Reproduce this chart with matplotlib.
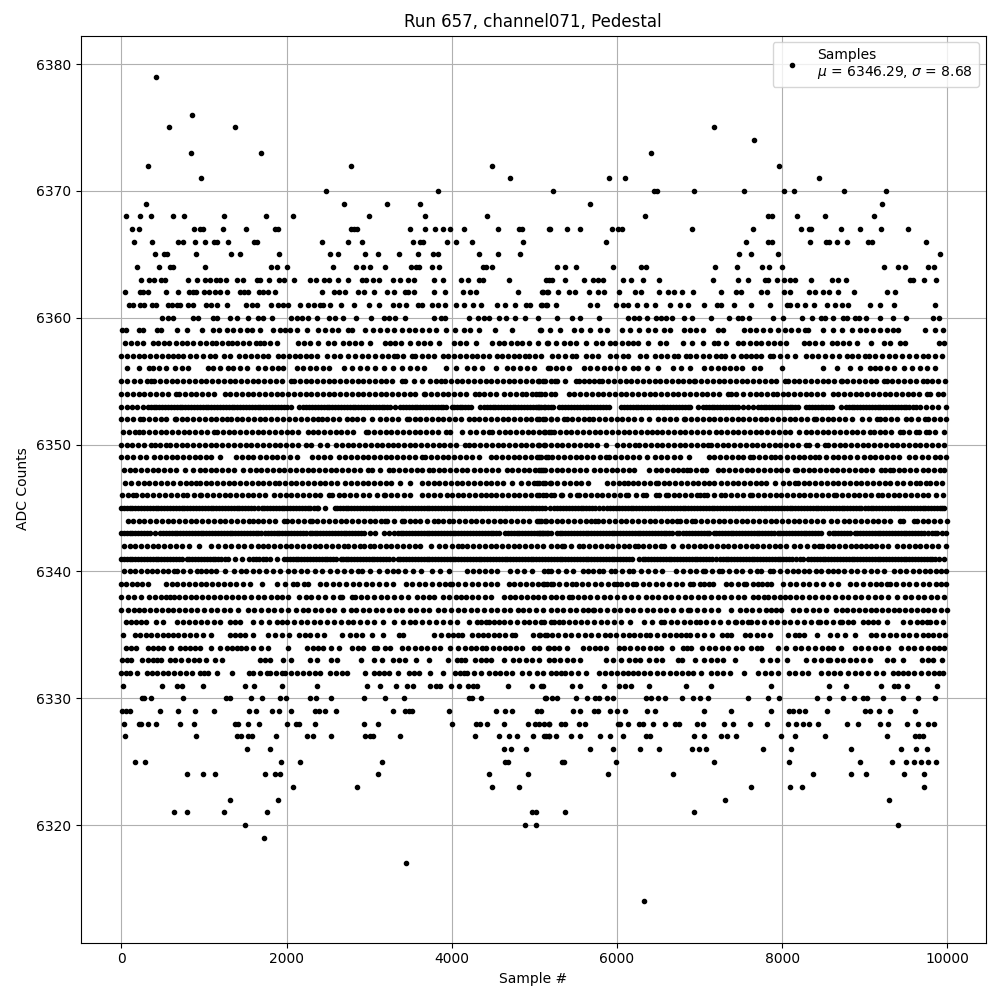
"""
Pedestal samples of one ADC channel, samples listed per ADC count.
"""
import matplotlib
matplotlib.use("Agg")
import matplotlib.pyplot as plt

TITLE = "Run 657, channel071, Pedestal"
MU = 6346.29
SIGMA = 8.68

adc_6314 = [6324]
adc_6317 = [3441]
adc_6319 = [1731]
adc_6320 = [1500, 4885, 5019, 9405]
adc_6321 = [639, 797, 1246, 1767, 4970, 5019, 5377, 6930]
adc_6322 = [1318, 1901, 7306, 9296]
adc_6323 = [2083, 2859, 4485, 4812, 7622, 8095, 8240, 9720]
adc_6324 = [797, 991, 1136, 1743, 1864, 1925, 3102, 4448, 4921, 5887, 6675, 8375, 8836, 9017, 9478, 9720]
adc_6325 = [170, 287, 1937, 2168, 3150, 4642, 4679, 5340, 5365, 5984, 7173, 8083, 8944, 9332, 9502, 9600, 9684, 9769, 9866]
adc_6326 = [1525, 1804, 4630, 4715, 4897, 5680, 5947, 6275, 6505, 6906, 6990, 7075, 7767, 8107, 8836, 9442, 9624, 9757]
adc_6327 = [44, 906, 1403, 1452, 1537, 1585, 1876, 2252, 2325, 2544, 2956, 3005, 3053, 3369, 4278, 4570, 4691, 4788, 4982, 5140, 5176,
            5120, 5180, 5258, 5442, 5559, 5790, 5911, 6069, 6348, 6396, 6930, 7051, 7258, 7330, 7440, 7986, 8155, 8519, 9272, 9611, 9660, 9708]
adc_6328 = [32, 214, 239, 324, 420, 712, 882, 1379, 1415, 1537, 1670, 2010, 2119, 2156, 2350, 2944, 3102, 4000, 4291, 4339, 4424, 4630, 4921, 5006, 5055, 5116, 5176,
            5180, 5320, 5373, 5535, 5608, 6008, 6040, 6129, 6263, 6311, 6433, 6578, 6700, 6748, 6966, 7039, 7294, 7403, 7610, 7816, 8070, 8167, 8252, 8325, 8434, 8786, 8920, 9187, 9284, 9514, 9648, 9769, 9842]
adc_6329 = [8, 57, 109, 469, 687, 894, 1124, 1549, 1634, 1828, 1913, 2058, 2350, 2398, 2471, 2604, 3284, 3429, 3478, 3514, 3963, 4533, 4642, 4727, 5031, 5079,
            5474, 5559, 5717, 5765, 5911, 5996, 6093, 6360, 6457, 7051, 7379, 7864, 8083, 8131, 8204, 8277, 8544, 9005, 9066, 9175, 9308, 9611]
adc_6330 = [251, 275, 360, 748, 1270, 1318, 1573, 1707, 1925, 1998, 2289, 2362, 2544, 2944, 3187, 3417, 4206, 4242, 4351, 5130, 5140, 5220, 5280, 5510, 5632, 5729, 5777, 5875, 5947,
            6348, 6408, 6493, 6578, 6785, 6918, 7000, 7100, 7585, 7828, 7961, 8422, 8568, 8738, 8871, 8981, 9029, 9227, 9458, 9640, 9846]
adc_6331 = [20, 493, 675, 736, 991, 1500, 1610, 1949, 2374, 2980, 3126, 3320, 3454, 3526, 3733, 3805, 3854, 3987, 4084, 4194, 4254, 4303, 4679, 4970, 5103,
            5086, 5462, 5559, 5838, 6020, 6093, 6166, 6384, 6833, 7137, 7864, 8568, 8774, 9199, 9357, 9405, 9515, 9878]
adc_6332 = [0, 55, 110, 190, 310, 370, 430, 500, 570, 640, 710, 780, 850, 950, 1000, 1050, 1160, 1340, 1540, 1600, 1680, 1760, 1800, 1870, 1940, 1980, 2060, 2130, 2200, 2270, 2340, 2410, 2530, 2600, 2670, 2730, 2955, 3055, 3115, 3175, 3245, 3345, 3480, 3540, 3600, 3735, 3890, 4045, 4095, 4145, 4185, 4265, 4350, 4450, 4520, 4590, 4660, 4730, 4850, 4935, 5035, 5100, 5200,
            5260, 5320, 5375, 5440, 5525, 5625, 5785, 5855, 5925, 6005, 6070, 6140, 6190, 6260, 6330, 6400, 6480, 6560, 6640, 6720, 6790, 6855, 6925, 7020, 7140, 7210, 7290, 7370, 7535, 7705, 7790, 7870, 7950, 8085, 8160, 8235, 8315, 8475, 8550, 8625, 8700, 8800, 8880, 8960, 9040, 9140, 9225, 9345, 9405, 9465, 9525, 9600, 9680, 9760, 9840, 9900, 9950]
adc_6333 = [10, 65, 120, 250, 325, 385, 435, 485, 585, 650, 720, 810, 875, 940, 1030, 1130, 1225, 1685, 1745, 1800, 1960, 2050, 2290, 2375, 2535, 2615, 2900, 3055, 3160, 3295, 3365, 3435, 3565, 3720, 3950, 4065, 4115, 4165, 4280, 4350, 4410, 4475, 4635, 4745, 4820, 4900, 4975, 5060, 5175,
            5240, 5310, 5390, 5470, 5550, 5865, 5955, 6050, 6150, 6215, 6285, 6390, 6470, 6550, 6735, 6790, 6950, 7060, 7140, 7215, 7285, 7430, 7760, 7850, 7935, 8055, 8295, 8380, 8470, 8555, 8575, 8660, 8740, 8820, 8900, 8980, 9060, 9265, 9345, 9465, 9695, 9760, 9830, 9930]
adc_6334 = [60, 120, 180, 325, 385, 450, 510, 600, 710, 770, 830, 890, 950, 1090, 1195, 1275, 1335, 1395, 1455, 1515, 1600, 1690, 1775, 2020, 2245, 2315, 2385, 2440, 2535, 2630, 2790, 2860, 2930, 3055, 3100, 3195, 3255, 3395, 3470, 3550, 3630, 3700, 3780, 3860, 3985, 4075, 4165, 4235, 4300, 4365, 4415, 4500, 4570, 4640, 4710, 4780, 4850, 4995, 5055, 5175,
            5170, 5240, 5300, 5400, 5585, 5660, 5730, 5800, 5865, 6020, 6090, 6160, 6240, 6320, 6400, 6475, 6530, 6670, 6805, 6850, 6895, 7030, 7110, 7190, 7270, 7350, 7445, 7515, 7625, 7690, 7750, 7950, 8050, 8150, 8230, 8310, 8400, 8480, 8550, 8615, 8715, 8880, 8960, 9040, 9120, 9200, 9285, 9445, 9520, 9600, 9680, 9760, 9840, 9900, 9960]
adc_6335 = [20, 160, 230, 300, 360, 430, 500, 565, 620, 690, 760, 835, 910, 990, 1080, 1320, 1380, 1440, 1495, 1590, 1780, 1860, 1950, 2035, 2155, 2220, 2290, 2370, 2455, 2670, 2770, 2845, 2910, 3035, 3165, 3365, 3415, 3780, 3865, 3950, 4015, 4070, 4125, 4245, 4315, 4380, 4445, 4510, 4570, 4650, 4730, 4770, 4985, 5070, 5155,
            5060, 5135, 5210, 5290, 5370, 5450, 5530, 5610, 5690, 5770, 5850, 5920, 5990, 6070, 6150, 6210, 6280, 6350, 6400, 6490, 6570, 6640, 6710, 6770, 6835, 6885, 6965, 7050, 7150, 7275, 7330, 7385, 7545, 7615, 7690, 7770, 7850, 8070, 8150, 8210, 8270, 8420, 8575, 8665, 8765, 8885, 9070, 9140, 9220, 9300, 9380, 9460, 9540, 9620, 9700, 9770, 9830, 9900, 9970]
adc_6336 = [60, 120, 180, 240, 300, 425, 500, 675, 745, 815, 890, 960, 1040, 1120, 1195, 1315, 1375, 1435, 1600, 1690, 1790, 1890, 1940, 2010, 2090, 2170, 2250, 2330, 2410, 2490, 2570, 2660, 2750, 2810, 2890, 2975, 3055, 3165, 3305, 3410, 3490, 3560, 3640, 3720, 3815, 3900, 3985, 4065, 4205, 4310, 4360, 4410, 4450, 4510, 4570, 4630, 4710, 4790, 4875, 4935, 5005, 5075, 5115, 5200,
            5240, 5300, 5350, 5420, 5490, 5560, 5640, 5725, 5805, 5880, 5960, 6050, 6160, 6330, 6430, 6535, 6575, 6650, 6730, 6810, 6890, 6960, 7000, 7080, 7160, 7250, 7340, 7425, 7445, 7520, 7585, 7625, 7700, 7780, 7860, 7940, 8020, 8100, 8180, 8270, 8350, 8435, 8455, 8530, 8610, 8700, 8730, 8800, 8860, 8975, 9040, 9100, 9165, 9265, 9465, 9550, 9630, 9690, 9750, 9785, 9860, 9950]
adc_6337 = [0, 75, 150, 210, 280, 350, 420, 490, 560, 630, 700, 770, 840, 920, 1000, 1080, 1160, 1240, 1320, 1410, 1535, 1610, 1690, 1770, 1850, 1930, 2020, 2110, 2205, 2265, 2340, 2420, 2500, 2580, 2680, 2780, 2840, 2920, 3000, 3080, 3160, 3240, 3320, 3400, 3490, 3570, 3650, 3720, 3830, 3910, 3990, 4070, 4150, 4230, 4310, 4390, 4470, 4550, 4630, 4710, 4800, 4865, 4940, 5020, 5110, 5200,
            5270, 5350, 5430, 5510, 5590, 5650, 5705, 5725, 5800, 5880, 5960, 6040, 6120, 6200, 6280, 6360, 6440, 6520, 6600, 6680, 6770, 6855, 6890, 6970, 7060, 7140, 7220, 7385, 7485, 7560, 7640, 7720, 7800, 7870, 7920, 7990, 8130, 8210, 8290, 8370, 8450, 8535, 8650, 8720, 8790, 8860, 8930, 9000, 9070, 9140, 9210, 9280, 9350, 9420, 9490, 9560, 9630, 9700, 9770, 9840, 9920, 9990]
adc_6338 = [0, 80, 150, 240, 330, 405, 485, 540, 595, 635, 700, 770, 840, 910, 980, 1050, 1120, 1190, 1270, 1345, 1415, 1490, 1570, 1650, 1730, 1810, 1890, 1950, 2015, 2155, 2230, 2300, 2380, 2470, 2560, 2650, 2675, 2790, 2830, 2900, 2980, 3060, 3140, 3220, 3300, 3380, 3465, 3580, 3650, 3720, 3790, 3895, 3970, 4050, 4110, 4175, 4245, 4320, 4400, 4470, 4630, 4700, 4770, 4840, 4910, 4980, 5050, 5120, 5200,
            5260, 5340, 5420, 5460, 5530, 5600, 5680, 5760, 5840, 5920, 6000, 6080, 6170, 6260, 6350, 6420, 6500, 6580, 6660, 6740, 6820, 6900, 6980, 7060, 7140, 7220, 7300, 7380, 7460, 7535, 7645, 7710, 7775, 7830, 7900, 7970, 8040, 8100, 8165, 8240, 8320, 8400, 8480, 8560, 8640, 8720, 8800, 8880, 8960, 9040, 9120, 9200, 9280, 9395, 9485, 9560, 9640, 9720, 9800, 9870, 9960]
adc_6339 = [0, 60, 125, 185, 245, 325, 540, 610, 680, 750, 820, 890, 960, 1030, 1100, 1170, 1240, 1310, 1390, 1470, 1555, 1705, 1890, 1980, 2075, 2125, 2215, 2265, 2405, 2480, 2560, 2640, 2720, 2800, 2880, 2960, 3040, 3120, 3200, 3295, 3450, 3520, 3600, 3680, 3760, 3840, 3920, 3985, 4005, 4080, 4160, 4240, 4320, 4400, 4480, 4550, 4690, 4760, 4830, 4900, 4970, 5040, 5120, 5200,
            5100, 5150, 5225, 5300, 5380, 5455, 5505, 5580, 5650, 5730, 5810, 5890, 5970, 6000, 6050, 6120, 6190, 6230, 6310, 6390, 6470, 6550, 6630, 6710, 6790, 6885, 6925, 7000, 7060, 7120, 7160, 7315, 7380, 7460, 7535, 7560, 7645, 7705, 7760, 7815, 7870, 8010, 8090, 8170, 8250, 8330, 8410, 8500, 8590, 8675, 8820, 8900, 8980, 9060, 9140, 9200, 9265, 9305, 9380, 9460, 9540, 9620, 9700, 9780, 9860, 9920, 9985]
adc_6340 = [30, 100, 170, 240, 310, 370, 435, 500, 570, 635, 675, 750, 830, 920, 970, 1030, 1080, 1145, 1255, 1370, 1455, 1510, 1590, 1670, 1750, 1840, 1920, 2020, 2090, 2170, 2250, 2340, 2430, 2530, 2615, 2690, 2780, 2870, 2915, 3010, 3115, 3215, 3285, 3355, 3435, 3530, 3630, 3760, 3860, 3965, 4185, 4260, 4325, 4400, 4480, 4550, 4705, 4790, 4880, 4975, 5160,
            5120, 5200, 5290, 5380, 5470, 5585, 5645, 5710, 5780, 5835, 5925, 5980, 6060, 6150, 6200, 6290, 6380, 6460, 6545, 6715, 6800, 6880, 6960, 7040, 7070, 7150, 7240, 7275, 7360, 7440, 7520, 7610, 7695, 7750, 7850, 7895, 7980, 8060, 8130, 8190, 8260, 8330, 8405, 8475, 8550, 8615, 8675, 8750, 8830, 8910, 8990, 9070, 9150, 9230, 9355, 9425, 9500, 9580, 9660, 9730, 9790, 9860, 9920, 9985]
adc_6341 = [0, 65, 135, 205, 275, 345, 415, 485, 555, 625, 695, 740, 790, 860, 930, 1000, 1070, 1140, 1210, 1290, 1375, 1460, 1550, 1630, 1710, 1800, 1880, 1970, 2040, 2110, 2180, 2250, 2320, 2390, 2460, 2530, 2600, 2655, 2680, 2750, 2820, 2890, 2960, 3030, 3100, 3170, 3240, 3345, 3375, 3450, 3520, 3590, 3660, 3730, 3800, 3870, 3940, 4010, 4080, 4150, 4220, 4290, 4360, 4430, 4500, 4570, 4640, 4710, 4780, 4850, 4920, 4990, 5060, 5130, 5200,
            5270, 5340, 5410, 5480, 5550, 5620, 5690, 5760, 5830, 5900, 5970, 6040, 6110, 6180, 6265, 6310, 6380, 6450, 6520, 6590, 6660, 6730, 6800, 6870, 6940, 7010, 7080, 7150, 7250, 7280, 7350, 7420, 7490, 7560, 7630, 7700, 7770, 7840, 7910, 7980, 8050, 8120, 8220, 8255, 8315, 8385, 8455, 8525, 8595, 8665, 8735, 8805, 8875, 8945, 9015, 9085, 9155, 9225, 9295, 9365, 9435, 9505, 9575, 9645, 9715, 9785, 9855, 9960,
            30, 100, 170, 240, 310, 380, 450, 520, 590, 660, 825, 895, 965, 1035, 1105, 1175, 1250, 1590, 1670, 1755, 2005, 2075, 2145, 2215, 2285, 2355, 2425, 2495, 2565, 2715, 2785, 2855, 2925, 2995, 3065, 3135, 3205, 3290, 3415, 3485, 3555, 3625, 3695, 3765, 3835, 3905, 3975, 4045, 4115, 4185, 4255, 4325, 4395, 4465, 4535, 4605, 4675, 4745, 4815, 4885, 4955, 5025, 5095, 5165,
            5235, 5305, 5375, 5445, 5515, 5585, 5655, 5725, 5795, 5865, 5935, 6005, 6075, 6145, 6345, 6415, 6485, 6555, 6625, 6695, 6765, 6835, 6905, 6975, 7045, 7115, 7200, 7315, 7385, 7455, 7525, 7595, 7665, 7735, 7805, 7875, 7945, 8015, 8085, 8170, 8350, 8420, 8490, 8560, 8630, 8700, 8770, 8840, 8910, 8980, 9050, 9120, 9190, 9260, 9330, 9400, 9470, 9540, 9610, 9680, 9750, 9820, 9900]
adc_6342 = [30, 100, 170, 240, 310, 380, 450, 520, 590, 660, 740, 820, 940, 1090, 1175, 1250, 1330, 1410, 1490, 1570, 1650, 1720, 1780, 1850, 1920, 1990, 2060, 2130, 2200, 2270, 2340, 2410, 2480, 2550, 2620, 2690, 2750, 2820, 2890, 2935, 3010, 3060, 3130, 3200, 3270, 3340, 3410, 3480, 3550, 3610, 3750, 3840, 3920, 4000, 4070, 4130, 4185, 4260, 4330, 4400, 4470, 4540, 4610, 4680, 4750, 4820, 4890, 4960, 5030, 5100, 5200,
            5270, 5340, 5360, 5450, 5545, 5595, 5665, 5735, 5805, 5875, 5945, 6015, 6085, 6150, 6220, 6250, 6320, 6390, 6460, 6530, 6575, 6680, 6790, 6860, 6930, 7000, 7070, 7140, 7210, 7280, 7350, 7420, 7490, 7560, 7630, 7700, 7770, 7840, 7910, 7980, 8050, 8140, 8220, 8300, 8380, 8445, 8480, 8550, 8620, 8690, 8760, 8830, 8900, 8960, 9010, 9070, 9140, 9210, 9285, 9395, 9465, 9535, 9605, 9675, 9745, 9815, 9885, 9985]
adc_6343 = [0, 65, 135, 205, 275, 345, 410, 465, 505, 575, 645, 715, 785, 855, 925, 995, 1065, 1135, 1205, 1275, 1345, 1415, 1485, 1555, 1625, 1695, 1780, 1810, 1880, 1950, 2020, 2090, 2160, 2230, 2290, 2305, 2375, 2445, 2515, 2585, 2655, 2725, 2795, 2865, 2935, 3010, 3075, 3175, 3240, 3305, 3345, 3415, 3485, 3555, 3625, 3695, 3765, 3835, 3905, 3975, 4045, 4115, 4185, 4225, 4295, 4365, 4435, 4505, 4575, 4640, 4680, 4750, 4820, 4890, 4960, 5030, 5100, 5200,
            5060, 5130, 5270, 5340, 5410, 5480, 5550, 5620, 5690, 5760, 5830, 5900, 5970, 6040, 6110, 6180, 6250, 6320, 6390, 6460, 6530, 6600, 6670, 6725, 6755, 6805, 6840, 6910, 6980, 7050, 7120, 7170, 7200, 7270, 7340, 7410, 7480, 7550, 7620, 7690, 7760, 7830, 7900, 7950, 7980, 8050, 8120, 8190, 8260, 8330, 8400, 8470, 8570, 8610, 8680, 8750, 8820, 8880, 8910, 8980, 9050, 9120, 9190, 9225, 9295, 9365, 9435, 9505, 9575, 9645, 9715, 9770, 9810, 9880, 9985,
            30, 100, 170, 240, 310, 540, 610, 680, 750, 820, 890, 960, 1030, 1100, 1170, 1240, 1310, 1380, 1450, 1520, 1590, 1660, 1740, 1845, 1915, 1985, 2055, 2125, 2195, 2340, 2410, 2480, 2550, 2620, 2690, 2760, 2830, 2900, 3380, 3450, 3520, 3590, 3660, 3730, 3800, 3870, 3940, 4010, 4080, 4150, 4260, 4330, 4400, 4470, 4540, 4715, 4785, 4855, 4925, 4995, 5065, 5150,
            5095, 5165, 5305, 5375, 5445, 5515, 5585, 5655, 5725, 5795, 5865, 5935, 6005, 6075, 6145, 6215, 6285, 6355, 6425, 6495, 6565, 6635, 6875, 6945, 7015, 7085, 7235, 7305, 7375, 7445, 7515, 7585, 7655, 7725, 7795, 7865, 8015, 8085, 8155, 8225, 8295, 8365, 8435, 8645, 8715, 8785, 8945, 9015, 9085, 9155, 9260, 9330, 9400, 9470, 9540, 9610, 9680, 9845, 9930]
adc_6344 = [80, 140, 210, 280, 350, 420, 490, 560, 630, 700, 770, 840, 910, 980, 1050, 1120, 1190, 1260, 1330, 1400, 1470, 1540, 1600, 1650, 1720, 1790, 1860, 1970, 2000, 2070, 2140, 2210, 2285, 2305, 2375, 2445, 2515, 2585, 2655, 2725, 2795, 2865, 2935, 3005, 3075, 3145, 3195, 3215, 3300, 3400, 3420, 3490, 3560, 3610, 3700, 3785, 3830, 3900, 3970, 4020, 4090, 4160, 4230, 4300, 4370, 4440, 4510, 4580, 4650, 4720, 4790, 4860, 4930, 5035, 5075, 5145, 5200,
            5060, 5130, 5270, 5340, 5410, 5480, 5550, 5620, 5690, 5735, 5765, 5835, 5905, 5975, 6045, 6115, 6185, 6255, 6325, 6395, 6465, 6535, 6605, 6665, 6725, 6765, 6840, 6910, 6950, 7020, 7090, 7160, 7230, 7300, 7370, 7440, 7510, 7580, 7650, 7720, 7790, 7860, 7930, 8000, 8070, 8140, 8210, 8280, 8350, 8420, 8490, 8590, 8665, 8745, 8815, 8885, 8955, 9025, 9095, 9165, 9235, 9305, 9425, 9465, 9595, 9630, 9700, 9770, 9840, 9910, 9998]
adc_6345 = [0, 65, 135, 205, 275, 345, 415, 485, 555, 625, 695, 765, 835, 905, 975, 1045, 1115, 1185, 1255, 1325, 1395, 1465, 1535, 1605, 1700, 1730, 1800, 1870, 1940, 2010, 2080, 2150, 2220, 2290, 2365, 2385, 2460, 2590, 2610, 2680, 2750, 2820, 2890, 2960, 3030, 3100, 3170, 3240, 3310, 3380, 3450, 3520, 3590, 3660, 3730, 3800, 3870, 3940, 4010, 4080, 4150, 4220, 4290, 4360, 4430, 4500, 4570, 4640, 4710, 4780, 4850, 4920, 4990, 5060, 5130, 5240,
            5280, 5350, 5420, 5490, 5560, 5630, 5700, 5785, 5835, 5885, 5955, 6025, 6095, 6165, 6235, 6305, 6375, 6445, 6515, 6585, 6655, 6725, 6795, 6865, 6935, 7005, 7075, 7145, 7215, 7285, 7355, 7425, 7495, 7565, 7635, 7705, 7775, 7845, 7915, 7985, 8055, 8125, 8195, 8265, 8335, 8405, 8475, 8545, 8615, 8685, 8755, 8825, 8895, 8960, 9000, 9070, 9140, 9210, 9280, 9350, 9420, 9490, 9560, 9630, 9700, 9770, 9840, 9910, 9960,
            30, 100, 170, 240, 310, 380, 450, 520, 590, 660, 730, 800, 870, 940, 1010, 1080, 1150, 1220, 1290, 1360, 1430, 1500, 1570, 1650, 1765, 1835, 1905, 1975, 2045, 2115, 2185, 2255, 2330, 2645, 2715, 2785, 2855, 2925, 2995, 3065, 3135, 3205, 3275, 3345, 3415, 3485, 3555, 3625, 3695, 3765, 3835, 3905, 3975, 4045, 4115, 4185, 4255, 4325, 4395, 4465, 4535, 4605, 4675, 4745, 4815, 4885, 4955, 5025, 5095, 5190,
            5315, 5385, 5455, 5525, 5595, 5665, 5740, 5920, 5990, 6060, 6130, 6200, 6270, 6340, 6410, 6480, 6550, 6620, 6690, 6760, 6830, 6900, 6970, 7040, 7110, 7180, 7250, 7320, 7390, 7460, 7530, 7600, 7670, 7740, 7810, 7880, 7950, 8020, 8090, 8160, 8230, 8300, 8370, 8440, 8510, 8580, 8650, 8720, 8790, 8860, 8930, 9035, 9105, 9175, 9245, 9315, 9385, 9455, 9525, 9595, 9665, 9735, 9805, 9875, 9935]
adc_6346 = [10, 75, 140, 175, 245, 315, 385, 455, 525, 605, 680, 750, 800, 875, 950, 970, 1040, 1110, 1180, 1250, 1320, 1390, 1460, 1530, 1600, 1670, 1745, 1850, 1920, 1990, 2060, 2130, 2200, 2270, 2340, 2410, 2520, 2555, 2630, 2700, 2770, 2840, 2920, 3000, 3090, 3175, 3195, 3265, 3335, 3420, 3500, 3640, 3710, 3790, 3860, 3945, 4000, 4070, 4140, 4210, 4280, 4350, 4420, 4470, 4540, 4610, 4680, 4750, 4820, 4890, 4960, 5030, 5100, 5200,
            5060, 5140, 5240, 5320, 5340, 5430, 5520, 5545, 5615, 5685, 5755, 5825, 5895, 5965, 6035, 6115, 6140, 6230, 6320, 6350, 6475, 6515, 6590, 6615, 6685, 6755, 6825, 6895, 6970, 7000, 7050, 7095, 7180, 7265, 7305, 7380, 7450, 7530, 7605, 7640, 7710, 7780, 7850, 7920, 7990, 8060, 8130, 8200, 8270, 8340, 8410, 8480, 8550, 8625, 8655, 8725, 8795, 8865, 8935, 9005, 9075, 9160, 9210, 9280, 9350, 9420, 9490, 9560, 9630, 9700, 9770, 9860, 9950]
adc_6347 = [40, 120, 200, 270, 340, 410, 480, 555, 625, 710, 780, 840, 900, 950, 1020, 1090, 1160, 1230, 1300, 1370, 1440, 1510, 1580, 1650, 1720, 1790, 1860, 1910, 1980, 2050, 2120, 2190, 2260, 2330, 2400, 2470, 2540, 2610, 2710, 2780, 2850, 2920, 2990, 3060, 3130, 3200, 3270, 3375, 3490, 3640, 3710, 3780, 3850, 3920, 3990, 4060, 4130, 4200, 4270, 4340, 4410, 4480, 4550, 4620, 4730, 4840, 4920, 4995, 5035, 5105, 5200,
            5060, 5125, 5190, 5280, 5360, 5430, 5500, 5570, 5645, 5885, 5955, 6025, 6090, 6130, 6190, 6260, 6330, 6400, 6475, 6495, 6565, 6635, 6705, 6775, 6845, 6915, 6985, 7055, 7120, 7180, 7260, 7330, 7400, 7470, 7540, 7610, 7680, 7750, 7810, 7915, 8010, 8080, 8150, 8190, 8260, 8330, 8400, 8470, 8540, 8610, 8680, 8750, 8820, 8890, 8960, 9030, 9100, 9170, 9240, 9310, 9390, 9465, 9545, 9625, 9670, 9740, 9790, 9860, 9930]
adc_6348 = [30, 100, 170, 240, 310, 380, 450, 520, 590, 660, 770, 865, 950, 1010, 1080, 1150, 1220, 1290, 1360, 1475, 1555, 1625, 1695, 1765, 1835, 1905, 1975, 2045, 2115, 2185, 2255, 2325, 2395, 2465, 2535, 2605, 2675, 2745, 2815, 2885, 2990, 3035, 3135, 3235, 3295, 3365, 3435, 3505, 3575, 3645, 3720, 3770, 3840, 3910, 3980, 4050, 4120, 4185, 4275, 4345, 4415, 4485, 4555, 4670, 4730, 4800, 4870, 4940, 5010, 5080, 5135,
            5060, 5105, 5200, 5270, 5340, 5410, 5480, 5550, 5625, 5725, 5795, 5865, 5935, 6005, 6075, 6145, 6210, 6390, 6470, 6535, 6605, 6675, 6745, 6795, 6845, 6885, 6955, 7025, 7080, 7220, 7290, 7360, 7430, 7500, 7570, 7640, 7710, 7780, 7850, 7920, 7990, 8060, 8150, 8180, 8250, 8320, 8390, 8460, 8530, 8600, 8670, 8740, 8810, 8880, 8950, 9020, 9090, 9200, 9240, 9300, 9340, 9410, 9480, 9550, 9625, 9700, 9770, 9840, 9910, 9960]
adc_6349 = [0, 70, 140, 230, 300, 400, 470, 540, 610, 680, 750, 820, 890, 950, 1020, 1090, 1195, 1390, 1460, 1530, 1600, 1680, 1750, 1820, 1890, 1960, 2040, 2125, 2305, 2380, 2450, 2530, 2640, 2710, 2780, 2850, 2920, 2990, 3060, 3130, 3200, 3270, 3340, 3410, 3480, 3560, 3640, 3680, 3750, 3820, 3890, 3960, 4030, 4100, 4170, 4250, 4330, 4470, 4540, 4610, 4680, 4750, 4820, 4890, 4960, 5035, 5075, 5160,
            5060, 5140, 5220, 5290, 5360, 5430, 5500, 5570, 5640, 5710, 5790, 5870, 5905, 5980, 6050, 6120, 6200, 6270, 6360, 6455, 6530, 6610, 6690, 6765, 6870, 7110, 7180, 7250, 7320, 7390, 7460, 7530, 7605, 7650, 7720, 7790, 7860, 7915, 7970, 8060, 8130, 8200, 8270, 8340, 8395, 8445, 8530, 8620, 8680, 8750, 8820, 8910, 8990, 9060, 9130, 9200, 9270, 9345, 9420, 9530, 9610, 9690, 9770, 9845, 9915, 9985]
adc_6350 = [0, 65, 135, 205, 275, 365, 405, 470, 540, 590, 660, 730, 800, 870, 940, 1010, 1080, 1150, 1220, 1290, 1365, 1435, 1505, 1575, 1645, 1715, 1785, 1855, 1925, 1995, 2065, 2135, 2235, 2295, 2400, 2490, 2600, 2670, 2740, 2810, 2880, 2950, 3020, 3090, 3160, 3230, 3295, 3350, 3420, 3490, 3560, 3630, 3700, 3770, 3840, 3910, 3980, 4050, 4155, 4205, 4275, 4345, 4415, 4485, 4555, 4625, 4695, 4765, 4835, 4905, 4975, 5045, 5115, 5200,
            5060, 5130, 5270, 5340, 5410, 5480, 5550, 5620, 5690, 5760, 5865, 5995, 6070, 6145, 6220, 6270, 6340, 6410, 6480, 6550, 6620, 6690, 6760, 6830, 6900, 6970, 7040, 7100, 7140, 7210, 7280, 7350, 7420, 7490, 7560, 7630, 7700, 7770, 7840, 7910, 7980, 8050, 8120, 8190, 8290, 8330, 8420, 8515, 8555, 8625, 8695, 8765, 8835, 8905, 8975, 9045, 9115, 9185, 9255, 9325, 9395, 9465, 9535, 9605, 9675, 9745, 9815, 9885, 9955]
adc_6351 = [20, 90, 160, 220, 265, 335, 405, 475, 545, 615, 685, 755, 825, 895, 965, 1035, 1120, 1160, 1230, 1300, 1370, 1440, 1510, 1580, 1650, 1720, 1790, 1860, 1930, 2000, 2070, 2140, 2265, 2315, 2385, 2455, 2525, 2595, 2665, 2735, 2805, 2965, 2990, 3060, 3130, 3200, 3270, 3340, 3410, 3480, 3550, 3620, 3690, 3760, 3830, 3925, 3985, 4125, 4225, 4300, 4375, 4450, 4490, 4570, 4640, 4710, 4780, 4850, 4920, 4990, 5060, 5130, 5200,
            5120, 5180, 5240, 5310, 5380, 5450, 5520, 5590, 5660, 5730, 5800, 5870, 5940, 6010, 6080, 6150, 6220, 6290, 6360, 6430, 6490, 6550, 6620, 6690, 6760, 6830, 6900, 6970, 7040, 7110, 7200, 7260, 7330, 7400, 7470, 7540, 7610, 7680, 7750, 7820, 7890, 7960, 8030, 8100, 8200, 8285, 8350, 8420, 8490, 8560, 8630, 8700, 8770, 8840, 8910, 8980, 9060, 9110, 9180, 9250, 9320, 9425, 9465, 9540, 9620, 9660, 9740, 9780, 9850, 9960]
adc_6352 = [0, 70, 140, 230, 265, 335, 405, 475, 545, 650, 660, 730, 800, 870, 940, 1010, 1080, 1150, 1220, 1285, 1325, 1395, 1465, 1535, 1605, 1675, 1745, 1815, 1885, 1955, 2035, 2105, 2175, 2245, 2315, 2385, 2425, 2495, 2565, 2640, 2730, 2790, 2850, 2930, 3030, 3135, 3205, 3275, 3345, 3460, 3480, 3550, 3620, 3690, 3760, 3830, 3900, 3970, 4040, 4110, 4205, 4265, 4335, 4405, 4475, 4545, 4615, 4685, 4755, 4825, 4895, 4965, 5035, 5105, 5200,
            5060, 5130, 5200, 5280, 5360, 5390, 5460, 5530, 5600, 5660, 5715, 5785, 5855, 5925, 5995, 6065, 6135, 6205, 6290, 6390, 6500, 6570, 6640, 6710, 6810, 6830, 6900, 6970, 7040, 7110, 7180, 7250, 7320, 7390, 7460, 7530, 7600, 7670, 7740, 7810, 7880, 7950, 8020, 8090, 8160, 8230, 8300, 8380, 8410, 8480, 8550, 8620, 8690, 8760, 8840, 8970, 9050, 9150, 9180, 9250, 9320, 9390, 9505, 9565, 9640, 9725, 9770, 9840, 9910, 9985]
adc_6353 = [0, 65, 130, 195, 260, 320, 390, 460, 530, 600, 670, 740, 810, 880, 950, 1020, 1090, 1160, 1230, 1300, 1370, 1440, 1510, 1580, 1650, 1720, 1790, 1860, 1930, 2000, 2060, 2150, 2205, 2275, 2345, 2415, 2485, 2555, 2625, 2695, 2765, 2835, 2905, 2975, 3045, 3115, 3185, 3255, 3315, 3375, 3445, 3515, 3585, 3655, 3725, 3795, 3865, 3935, 4000, 4025, 4095, 4165, 4235, 4345, 4390, 4460, 4530, 4600, 4670, 4740, 4770, 4840, 4910, 4980, 5050, 5120, 5200,
            5060, 5130, 5230, 5300, 5340, 5410, 5480, 5550, 5620, 5690, 5760, 5830, 5900, 6050, 6120, 6190, 6260, 6330, 6400, 6470, 6540, 6610, 6680, 6750, 6820, 6890, 6980, 7040, 7110, 7180, 7250, 7320, 7390, 7470, 7525, 7590, 7645, 7705, 7775, 7845, 7915, 7985, 8055, 8125, 8195, 8290, 8325, 8395, 8465, 8535, 8605, 8715, 8770, 8840, 8910, 8980, 9050, 9120, 9190, 9260, 9330, 9400, 9470, 9540, 9625, 9670, 9740, 9810, 9890, 9985,
            355, 425, 495, 565, 635, 705, 775, 845, 915, 985, 1055, 1125, 1195, 1265, 1335, 1405, 1475, 1545, 1615, 1685, 1755, 1825, 1895, 1965, 2240, 2310, 2380, 2450, 2520, 2590, 2660, 2730, 2800, 2870, 2940, 3010, 3080, 3150, 3220, 3410, 3480, 3550, 3620, 3690, 3760, 3830, 3900, 4060, 4130, 4200, 4425, 4495, 4565, 4635, 4705, 4805, 4875, 4945, 5015, 5085, 5160,
            5375, 5445, 5515, 5585, 5655, 5725, 5795, 5865, 6085, 6155, 6225, 6295, 6365, 6435, 6505, 6575, 6645, 6715, 6785, 6855, 7075, 7145, 7215, 7285, 7355, 7430, 7740, 7810, 7880, 7950, 8020, 8090, 8160, 8360, 8430, 8500, 8570, 8805, 8875, 8945, 9015, 9085, 9155, 9225, 9295, 9365, 9435, 9505, 9580]
adc_6354 = [0, 70, 140, 210, 280, 350, 420, 490, 560, 660, 700, 770, 840, 910, 980, 1050, 1120, 1250, 1320, 1390, 1460, 1530, 1600, 1670, 1740, 1810, 1880, 1950, 2020, 2090, 2160, 2230, 2300, 2370, 2440, 2510, 2580, 2650, 2720, 2790, 2860, 2930, 3000, 3070, 3140, 3210, 3280, 3350, 3420, 3490, 3560, 3660, 3680, 3750, 3820, 3890, 3960, 4030, 4100, 4170, 4285, 4325, 4395, 4465, 4535, 4630, 4710, 4780, 4850, 4895, 4975, 5015, 5085, 5200,
            5060, 5130, 5250, 5415, 5485, 5555, 5625, 5695, 5765, 5835, 5905, 5975, 6045, 6115, 6185, 6255, 6325, 6395, 6465, 6535, 6605, 6675, 6745, 6815, 6885, 6955, 7025, 7095, 7165, 7235, 7345, 7385, 7445, 7525, 7610, 7685, 7745, 7820, 7890, 7935, 8005, 8075, 8145, 8215, 8285, 8355, 8425, 8495, 8615, 8680, 8750, 8820, 8890, 8960, 9030, 9100, 9170, 9240, 9310, 9380, 9450, 9520, 9590, 9660, 9750, 9790, 9890, 9950]
adc_6355 = [0, 70, 150, 230, 310, 360, 400, 470, 540, 610, 680, 750, 820, 890, 960, 1030, 1100, 1170, 1240, 1310, 1380, 1450, 1520, 1590, 1660, 1730, 1800, 1870, 1940, 2050, 2090, 2160, 2230, 2300, 2370, 2440, 2510, 2580, 2650, 2720, 2790, 2860, 2930, 3000, 3070, 3140, 3210, 3280, 3400, 3440, 3540, 3640, 3740, 3815, 3870, 3920, 3990, 4060, 4130, 4200, 4270, 4340, 4410, 4480, 4550, 4620, 4690, 4760, 4830, 4900, 4970, 5040, 5110, 5200,
            5060, 5130, 5250, 5280, 5370, 5500, 5545, 5605, 5665, 5725, 5780, 5825, 5895, 5965, 6035, 6105, 6175, 6245, 6315, 6385, 6455, 6525, 6595, 6665, 6735, 6805, 6875, 6930, 6950, 7020, 7090, 7160, 7230, 7300, 7370, 7440, 7510, 7580, 7650, 7720, 7790, 7860, 7930, 8040, 8070, 8140, 8210, 8280, 8350, 8420, 8490, 8560, 8630, 8710, 8720, 8790, 8860, 8930, 9000, 9070, 9140, 9235, 9265, 9335, 9405, 9475, 9545, 9615, 9710, 9750, 9820, 9890, 9970]
adc_6356 = [70, 215, 330, 385, 455, 540, 650, 730, 810, 1050, 1110, 1190, 1295, 1355, 1435, 1520, 1660, 1740, 1820, 1900, 1960, 2125, 2200, 2280, 2360, 2440, 2510, 2690, 2790, 2890, 2975, 3075, 3175, 3290, 3400, 3500, 3580, 3660, 3930, 4050, 4180, 4270, 4370, 4540, 4665, 4745, 4830, 4910, 4995, 5160,
            5190, 5260, 5330, 5415, 5600, 5680, 5760, 5840, 5920, 6000, 6080, 6190, 6250, 6370, 6495, 6675, 6780, 6880, 7060, 7140, 7220, 7300, 7370, 7440, 7515, 7665, 7730, 8000, 8500, 8665, 8820, 8940, 9060, 9120, 9190, 9265, 9350, 9470, 9570, 9670, 9750, 9850]
adc_6357 = [0, 70, 140, 210, 280, 350, 420, 490, 560, 630, 690, 750, 830, 910, 990, 1070, 1140, 1240, 1320, 1430, 1500, 1570, 1640, 1710, 1780, 1900, 1960, 2030, 2100, 2160, 2230, 2300, 2370, 2490, 2570, 2650, 2750, 2830, 2910, 2990, 3070, 3150, 3230, 3300, 3340, 3410, 3520, 3560, 3640, 3710, 3780, 3900, 3950, 4030, 4100, 4170, 4240, 4310, 4380, 4450, 4550, 4610, 4680, 4750, 4820, 4890, 4930, 5010, 5080,
            5210, 5290, 5370, 5460, 5500, 5620, 5700, 5770, 5915, 5990, 6070, 6140, 6280, 6350, 6460, 6530, 6610, 6695, 6735, 6840, 6880, 6960, 7040, 7120, 7200, 7265, 7310, 7400, 7500, 7560, 7620, 7680, 7750, 7850, 7890, 7980, 8060, 8160, 8290, 8365, 8440, 8520, 8600, 8690, 8785, 8850, 8920, 9000, 9050, 9130, 9210, 9290, 9370, 9450, 9530, 9620, 9710, 9770, 9850, 9930]
adc_6358 = [50, 120, 190, 260, 380, 450, 520, 580, 660, 730, 800, 870, 950, 1030, 1100, 1150, 1220, 1290, 1340, 1400, 1470, 1540, 1630, 1680, 1730, 1800, 1880, 2140, 2210, 2290, 2380, 2500, 2570, 2680, 2760, 2830, 2900, 3010, 3190, 3250, 3310, 3390, 3500, 3590, 3660, 3740, 3850, 4030, 4100, 4170, 4290, 4490, 4570, 4630, 4720, 4790, 4850, 4930, 5050, 5160,
            5150, 5260, 5360, 5430, 5510, 5630, 5750, 5820, 5920, 5980, 6060, 6130, 6200, 6260, 6380, 6520, 6600, 6805, 6910, 7040, 7180, 7220, 7320, 7460, 7530, 7610, 7680, 7740, 7830, 7900, 7980, 8050, 8260, 8330, 8400, 8480, 8600, 8660, 8740, 8810, 8910, 9080, 9230, 9310, 9430, 9490, 9900, 9960]
adc_6359 = [8, 61, 214, 263, 433, 481, 675, 797, 979, 1112, 1185, 1274, 1355, 1436, 1516, 1577, 1682, 1840, 1921, 1982, 2042, 2131, 2244, 2386, 2467, 2556, 2629, 2750, 2790, 2956, 3053, 3134, 3215, 3296, 3397, 3478, 3559, 3640, 3721, 3805, 3926, 4036, 4145, 4226, 4327, 4521, 4731, 5079,
            5074, 5195, 5316, 5486, 5571, 5668, 5790, 5874, 6057, 6154, 6263, 6372, 6457, 6566, 6639, 6809, 6882, 6954, 7039, 7221, 7282, 7537, 7610, 7686, 7767, 7848, 7949, 8030, 8111, 8192, 8273, 8313, 8495, 8616, 8726, 8847, 8940, 9021, 9102, 9183, 9264, 9344, 9405, 9733, 9854, 9951]
adc_6360 = [493, 566, 627, 869, 930, 1112, 1161, 1318, 1403, 1537, 1658, 1719, 1828, 2058, 2131, 2192, 2265, 2374, 2519, 2592, 2689, 2847, 3017, 3175, 3235, 3308, 3429, 3781, 3866, 3914, 4206, 4315, 4388, 4448, 4570, 4655, 4764, 4885, 5043,
            5280, 5462, 5547, 5777, 6129, 6202, 6263, 6360, 6469, 6530, 6590, 6663, 6809, 6906, 7137, 7355, 7464, 7513, 7597, 7889, 8010, 8240, 8362, 8471, 8519, 8616, 8738, 8786, 8883, 8932, 9017, 9187, 9344, 9502, 9830, 9902]
adc_6361 = [93, 141, 226, 275, 372, 420, 566, 615, 675, 712, 809, 869, 1027, 1088, 1161, 1282, 1512, 1585, 1646, 1816, 1900, 1961, 2022, 2168, 2265, 2337, 2410, 2447, 2532, 2665, 2823, 2993, 3114, 3284, 3357, 3441, 3587, 3636, 3757, 3830, 3914, 4048, 4145, 4254, 4351, 4545, 4642, 4764, 4897, 4946, 5079, 5152,
            5097, 5147, 5268, 5668, 5753, 5984, 6069, 6129, 6239, 6348, 6457, 6639, 6760, 6857, 7051, 7209, 7258, 7415, 7622, 7852, 8058, 8095, 8180, 8277, 8386, 8544, 8641, 8726, 8798, 9066, 9187, 9356, 9854]
adc_6362 = [44, 226, 263, 324, 542, 687, 821, 869, 906, 1003, 1064, 1136, 1197, 1282, 1440, 1488, 1537, 1670, 1719, 1779, 1864, 2434, 2580, 2641, 2713, 2871, 2944, 3065, 3211, 3296, 3429, 3466, 3538, 3781, 3914, 4133, 4218, 4291, 4800, 5103, 5152,
            5097, 5170, 5292, 5414, 5495, 5656, 5765, 5838, 6020, 6214, 6287, 6505, 6615, 6687, 6785, 6918, 7258, 7440, 7500, 7743, 7816, 8022, 8095, 8325, 8398, 8495, 8568, 8677, 8871, 9272, 9369]
adc_6363 = [239, 336, 396, 481, 530, 805, 918, 1015, 1076, 1148, 1197, 1270, 1403, 1476, 1646, 1682, 1791, 1913, 1973, 2095, 2289, 2362, 2459, 2519, 2629, 2750, 2908, 2968, 3053, 3114, 3284, 3369, 3466, 3538, 3781, 3890, 4109, 4194, 4327, 4376, 4691, 5176,
            5147, 5220, 5377, 5596, 5705, 5765, 5826, 6069, 6166, 6311, 6505, 7161, 7464, 7585, 7791, 7828, 7937, 8022, 8095, 8155, 8349, 8604, 8677, 8774, 9551, 9587, 9720, 9866]
adc_6364 = [190, 457, 590, 627, 1015, 1816, 1889, 2010, 2568, 2847, 2920, 3005, 3187, 3502, 3563, 3599, 3757, 3842, 4376, 4412, 4485,
            5280, 5377, 5499, 5947, 6287, 6348, 7185, 7452, 7755, 7840, 7998, 9235, 9405, 9490, 9769, 9842]
adc_6365 = [408, 518, 554, 906, 1330, 1440, 1913, 2532, 2629, 2956, 3102, 3357, 3587, 3769, 3830, 4327, 4558, 4824, 7476, 7622, 7949, 9914]
adc_6366 = [154, 372, 687, 748, 894, 1015, 1124, 1161, 1294, 1610, 1646, 2434, 2750, 2908, 3526, 3611, 3648, 3939, 4048, 4242, 4861,
            5863, 7561, 7828, 7876, 8337, 8531, 8568, 8665, 8786, 9041, 9090, 9745]
adc_6367 = [129, 214, 882, 954, 991, 1233, 1512, 1864, 1900, 2786, 2823, 2859, 3490, 3672, 3793, 3890, 3975, 4145, 4558, 4812, 4849, 5188,
            5183, 5401, 5559, 5935, 6008, 6057, 6906, 7646, 8228, 8325, 8349, 8713, 8944, 9199, 9526]
adc_6368 = [57, 226, 360, 627, 760, 1246, 1755, 2083, 2993, 3672, 4424, 6336, 7828, 7876, 8180, 8519, 9114]
adc_6369 = [299, 2701, 3211, 3611, 5680, 9211]
adc_6370 = [2483, 3830, 5232, 6445, 6481, 6930, 7537, 8022, 8143, 8750, 9259]
adc_6371 = [966, 4703, 5899, 6093, 8447]
adc_6372 = [324, 2786, 4485, 7961]
adc_6373 = [845, 1694, 6408]
adc_6374 = [7658]
adc_6375 = [578, 1379, 7173]
adc_6376 = [857]
adc_6379 = [420]

ADC_LEVELS = [6314, 6317, 6319, 6320, 6321, 6322, 6323, 6324, 6325, 6326, 6327, 6328, 6329, 6330, 6331, 6332, 6333, 6334,
              6335, 6336, 6337, 6338, 6339, 6340, 6341, 6342, 6343, 6344, 6345, 6346, 6347, 6348, 6349, 6350, 6351, 6352,
              6353, 6354, 6355, 6356, 6357, 6358, 6359, 6360, 6361, 6362, 6363, 6364, 6365, 6366, 6367, 6368, 6369, 6370,
              6371, 6372, 6373, 6374, 6375, 6376, 6379]
SAMPLES_AT_LEVEL = [adc_6314, adc_6317, adc_6319, adc_6320, adc_6321, adc_6322, adc_6323, adc_6324, adc_6325, adc_6326, adc_6327,
                    adc_6328, adc_6329, adc_6330, adc_6331, adc_6332, adc_6333, adc_6334, adc_6335, adc_6336, adc_6337, adc_6338,
                    adc_6339, adc_6340, adc_6341, adc_6342, adc_6343, adc_6344, adc_6345, adc_6346, adc_6347, adc_6348, adc_6349,
                    adc_6350, adc_6351, adc_6352, adc_6353, adc_6354, adc_6355, adc_6356, adc_6357, adc_6358, adc_6359, adc_6360,
                    adc_6361, adc_6362, adc_6363, adc_6364, adc_6365, adc_6366, adc_6367, adc_6368, adc_6369, adc_6370, adc_6371,
                    adc_6372, adc_6373, adc_6374, adc_6375, adc_6376, adc_6379]

if __name__ == "__main__":
    sample_no = []
    adc_counts = []
    for level, samples in zip(ADC_LEVELS, SAMPLES_AT_LEVEL):
        sample_no.extend(samples)
        adc_counts.extend([level] * len(samples))

    fig, ax = plt.subplots(figsize=(10, 10), dpi=100)
    ax.plot(sample_no, adc_counts, "k.", label=f"Samples\n$\\mu$ = {MU}, $\\sigma$ = {SIGMA}")
    ax.set_xlim(-494, 10462)
    ax.set_title(TITLE)
    ax.set_xlabel("Sample #")
    ax.set_ylabel("ADC Counts")
    ax.grid(True)
    ax.legend(loc="upper right")
    fig.subplots_adjust(left=0.0805, right=0.9855, bottom=0.0575, top=0.9645)
    fig.savefig("out.png", dpi=100)
